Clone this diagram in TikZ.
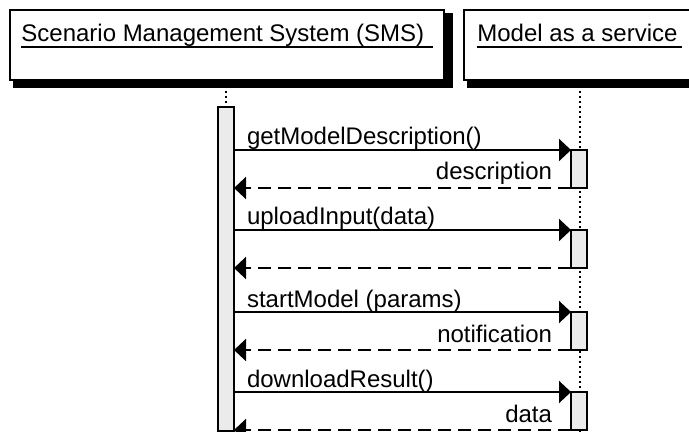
\documentclass[tikz,border=0pt]{standalone}
\usepackage{fontspec}
\setmainfont{Liberation Sans}
\usepackage{tikz}
\usetikzlibrary{arrows.meta,calc,backgrounds}
\usepackage{xcolor}
\definecolor{ActivationGray}{HTML}{EBEBEB}

\begin{document}
\begin{tikzpicture}[x=0.5pt,y=-0.5pt,font=\fontsize{12}{14}\selectfont,
    actor/.style={draw,line width=0.8pt,fill=white,anchor=north west,minimum height=35pt,inner sep=0pt},
    actortext/.style={anchor=base west,inner sep=0pt},
    activation/.style={draw,line width=1pt,fill=ActivationGray,anchor=north west,minimum width=8pt,inner sep=0pt,outer sep=0pt},
    lifeline/.style={line width=1pt,dash pattern=on 1pt off 1.5pt},
    call/.style={line width=1pt,-{Triangle[length=6pt,width=11pt]}},
    reply/.style={line width=1pt,dash pattern=on 6.5pt off 3.5pt,-{Triangle[length=6pt,width=11pt]}},
    msg/.style={anchor=base west,inner sep=0pt,shift={(12,-5)}},
    answer/.style={anchor=base east,inner sep=0pt,shift={(-18,-8)}}]
    \useasboundingbox (0,0) rectangle (689,432);

    % actors
    \node[actor,minimum width=217pt] (sms) at (9,9) {};
    \node[actor,minimum width=116pt] (mas) at (463,9) {};
    \begin{scope}[on background layer]
        \fill ($(sms.north west)+(4,4)$) rectangle ($(sms.south east)+(8,7)$);
        \fill ($(mas.north west)+(4,4)$) rectangle ($(mas.south east)+(8,7)$);
    \end{scope}
    \node[actortext] (smstext) at ($(sms.north west)+(12,33)$) {Scenario Management System (SMS)};
    \node[actortext] (mastext) at ($(mas.north west)+(14,33)$) {Model as a service};
    \draw[line width=0.9pt] ($(smstext.base west)+(0,5)$) -- ($(smstext.base east)+(8,5)$);
    \draw[line width=0.9pt] ($(mastext.base west)+(0,5)$) -- ($(mastext.base east)+(4,5)$);

    % lifelines
    \coordinate (masend) at (579,432);
    \draw[lifeline] (mas.south) -- (mas.south |- masend);
    \node[activation,minimum height=162pt] (smsbar) at (218,107) {};
    \draw[lifeline] (sms.south -| smsbar.north) -- (smsbar.north);

    % activations of the service
    \node[activation,minimum height=19pt] (act1) at (571,150) {};
    \node[activation,minimum height=19pt] (act2) at (571,230) {};
    \node[activation,minimum height=19pt] (act3) at (571,312) {};
    \node[activation,minimum height=19pt] (act4) at (571,392) {};

    % messages
    \draw[call] (smsbar.east |- act1.north) -- node[msg,pos=0] {getModelDescription()} (act1.north west);
    \draw[reply] (act1.south west) -- node[answer,pos=0] {description} (smsbar.east |- act1.south);
    \draw[call] (smsbar.east |- act2.north) -- node[msg,pos=0] {uploadInput(data)} (act2.north west);
    \draw[reply] (act2.south west) -- (smsbar.east |- act2.south);
    \draw[call] (smsbar.east |- act3.north) -- node[msg,pos=0] {startModel (params)} (act3.north west);
    \draw[reply] (act3.south west) -- node[answer,pos=0] {notification} (smsbar.east |- act3.south);
    \draw[call] (smsbar.east |- act4.north) -- node[msg,pos=0] {downloadResult()} (act4.north west);
    \draw[reply] (act4.south west) -- node[answer,pos=0] {data} (smsbar.east |- act4.south);
\end{tikzpicture}
\end{document}
